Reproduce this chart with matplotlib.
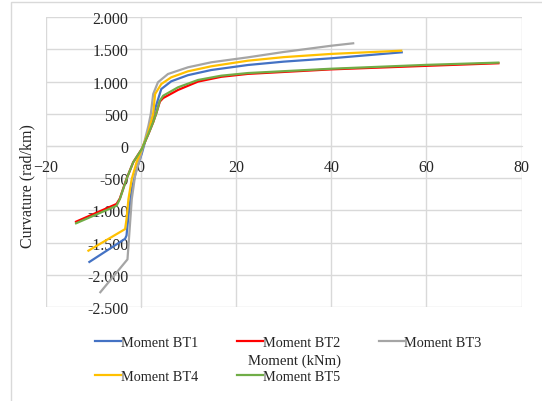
import matplotlib
matplotlib.use("Agg")
import matplotlib.pyplot as plt
from matplotlib.ticker import FuncFormatter, MultipleLocator
from matplotlib.patches import Rectangle

# moment (kNm) vs curvature (rad/km) for each beam
bt1_x = [-10.8, -3.3, -3.0, -2.6, -1.9, -0.9, 0.2, 1.2, 2.3, 3.3, 4.3, 6.4, 9.9, 14.8, 22.5, 30, 40, 54.8]
bt1_y = [-1800, -1440, -1390, -1080, -670, -360, -120, 150, 400, 650, 885, 1005, 1100, 1180, 1258, 1310, 1362, 1455]

bt2_x = [-13.6, -5.1, -4.4, -3.0, -1.6, 0.2, 1.5, 2.6, 3.3, 4.0, 4.7, 7.8, 12.0, 16.9, 22.5, 40, 60, 75.1]
bt2_y = [-1175, -900, -815, -510, -253, -47, 170, 370, 520, 690, 745, 870, 1000, 1075, 1120, 1190, 1245, 1285]

bt3_x = [-8.5, -2.8, -2.5, -1.9, -1.2, -0.2, 0.8, 1.6, 2.1, 2.6, 3.6, 5.7, 9.9, 14.8, 22.5, 30, 40, 44.6]
bt3_y = [-2270, -1760, -1450, -825, -460, -200, 80, 315, 500, 807, 990, 1118, 1222, 1300, 1377, 1460, 1557, 1595]

bt4_x = [-11.0, -3.3, -3.0, -2.6, -1.9, -0.9, 0.5, 1.5, 2.6, 3.0, 4.3, 6.4, 9.9, 14.8, 22.5, 30, 40, 54.7]
bt4_y = [-1625, -1290, -1135, -825, -510, -255, 5, 200, 500, 807, 963, 1067, 1160, 1238, 1325, 1380, 1430, 1480]

bt5_x = [-13.6, -5.1, -4.4, -3.0, -1.6, 0.2, 1.5, 2.6, 3.3, 4.0, 4.7, 7.8, 12.0, 16.9, 22.5, 40, 60, 75.1]
bt5_y = [-1200, -927, -823, -512, -253, -47, 170, 370, 520, 704, 781, 911, 1025, 1092, 1133, 1200, 1260, 1295]

names = ["Moment BT1", "Moment BT2", "Moment BT3", "Moment BT4", "Moment BT5"]
colors = ["#4472C4", "#FF0000", "#A5A5A5", "#FFC000", "#70AD47"]

plt.rcParams["font.family"] = ["Liberation Serif", "DejaVu Serif"]
grid_c = "#d9d9d9"
text_c = "#262626"

fig = plt.figure(figsize=(5.42, 4.02), dpi=100)
fig.patches.append(Rectangle((11 / 542, -0.1), 2, 0.9925 + 0.1, transform=fig.transFigure,
                             fill=False, edgecolor=grid_c, lw=1))
ax = fig.add_axes([0.0841, 0.2338, 0.8785, 0.7209])

series = [(bt1_x, bt1_y), (bt2_x, bt2_y), (bt3_x, bt3_y), (bt4_x, bt4_y), (bt5_x, bt5_y)]
lines = []
for (xs, ys), name, c in zip(series, names, colors):
    ln, = ax.plot(xs, ys, color=c, lw=1.6, label=name, solid_joinstyle="round")
    lines.append(ln)

ax.set_xlim(-20, 80)
ax.set_ylim(-2500, 2000)
ax.xaxis.set_major_locator(MultipleLocator(20))
ax.yaxis.set_major_locator(MultipleLocator(500))
ax.yaxis.set_major_formatter(FuncFormatter(lambda v, p: f"{v:,.0f}".replace(",", ".")))
ax.grid(True, color=grid_c, lw=1)
ax.set_axisbelow(True)

for s in ["top", "right"]:
    ax.spines[s].set_visible(False)
ax.spines["left"].set_position(("data", 0))
ax.spines["bottom"].set_position(("data", 0))
for s in ["left", "bottom"]:
    ax.spines[s].set_color(grid_c)
    ax.spines[s].set_zorder(0.5)
ax.tick_params(length=0, labelsize=11.5, colors=text_c, pad=9)

fig.text(27 / 542, 1 - 186 / 402, "Curvature (rad/km)", rotation=90, ha="center", va="center",
         fontsize=11.5, color=text_c)
fig.text(294 / 542, 1 - 361 / 402, "Moment (kNm)", ha="center", va="center",
         fontsize=10.6, color=text_c)

# legend: row-major order across three columns
order = [0, 3, 1, 4, 2]
leg = fig.legend([lines[i] for i in order], [names[i] for i in order], ncol=3,
                 loc="center", bbox_to_anchor=(288.5 / 542, 1 - 360.5 / 402), frameon=False,
                 fontsize=10.3, handlelength=1.8, handletextpad=0.0, columnspacing=2.7,
                 labelspacing=1.45)
for t in leg.get_texts():
    t.set_color(text_c)

fig.savefig("out.png", dpi=100)
